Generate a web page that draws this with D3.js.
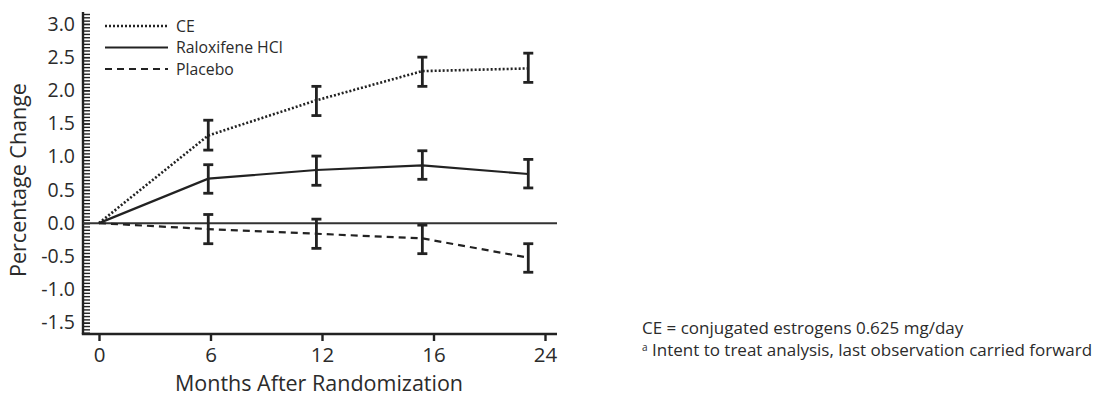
<!DOCTYPE html>
<html>
<head>
<meta charset="utf-8">
<script src="https://cdn.jsdelivr.net/npm/d3@7"></script>
<style>
  body { margin: 0; background: #fff; }
  text { font-family: "Open Sans", "Noto Sans", sans-serif; fill: #2b2b2b; }
</style>
</head>
<body>
<div id="container"></div>
<script>
/* CONSTANTS AND GLOBALS */
const width = 1101;
const height = 404;

// x tick labels (visits are drawn at equal steps)
const monthLabels = ["0", "6", "12", "16", "24"];
// where each measurement sits along the visit axis
const visitPos = [0, 0.98, 1.95, 2.9, 3.85];

const ceMean = [0, 1.32, 1.85, 2.29, 2.33];
const ceLow = [null, 1.10, 1.62, 2.06, 2.12];
const ceHigh = [null, 1.55, 2.06, 2.50, 2.56];

const raloxMean = [0, 0.67, 0.80, 0.87, 0.74];
const raloxLow = [null, 0.45, 0.57, 0.66, 0.53];
const raloxHigh = [null, 0.88, 1.01, 1.09, 0.96];

const placeboMean = [0, -0.09, -0.16, -0.23, -0.52];
const placeboLow = [null, -0.31, -0.38, -0.46, -0.74];
const placeboHigh = [null, 0.13, 0.06, -0.03, -0.31];

const yTicks = [3.0, 2.5, 2.0, 1.5, 1.0, 0.5, 0.0, -0.5, -1.0, -1.5];

const seriesNames = ["CE", "Raloxifene HCl", "Placebo"];

const series = [
  { name: seriesNames[0], mean: ceMean, low: ceLow, high: ceHigh, dash: "2,2", sw: 2.6 },
  { name: seriesNames[1], mean: raloxMean, low: raloxLow, high: raloxHigh, dash: null, sw: 2.2 },
  { name: seriesNames[2], mean: placeboMean, low: placeboLow, high: placeboHigh, dash: "7,5", sw: 2.2 }
];

const margin = { left: 83, right: 544, top: 12, bottom: 70 };

// + SCALES
const xScale = d3.scaleLinear()
  .domain([0, monthLabels.length - 1])
  .range([99, 545]);

const yScale = d3.scaleLinear()
  .domain([-1.67, 3.18])
  .range([height - margin.bottom, margin.top]);

// CREATE SVG ELEMENT
const svg = d3.select("#container")
  .append("svg")
  .attr("width", width)
  .attr("height", height);

// minor ticks comb
const minorAxis = d3.axisLeft(yScale)
  .tickValues(d3.range(-33, 64).map(i => i * 0.05))
  .tickSize(-7)
  .tickFormat("");

svg.append("g")
  .attr("transform", `translate(${margin.left}, 0)`)
  .call(minorAxis)
  .call(g => g.select(".domain").remove())
  .call(g => g.selectAll("line").attr("stroke", "#222").attr("stroke-width", 1.4));

const yAxis = d3.axisLeft(yScale)
  .tickValues(yTicks)
  .tickSize(-7)
  .tickPadding(8)
  .tickFormat(d => d.toFixed(1));

svg.append("g")
  .attr("transform", `translate(${margin.left}, 0)`)
  .call(yAxis)
  .call(g => g.select(".domain").remove())
  .call(g => g.selectAll("line").attr("stroke", "#222").attr("stroke-width", 1.4))
  .call(g => g.selectAll("text").attr("font-size", 19.5).attr("fill", "#2b2b2b")
    .attr("font-family", '"Open Sans", sans-serif'));

// axis lines
const xEnd = 557;
svg.append("line")
  .attr("x1", margin.left).attr("x2", margin.left)
  .attr("y1", yScale(3.18)).attr("y2", yScale(-1.67))
  .attr("stroke", "#222").attr("stroke-width", 2.4);

const xAxis = d3.axisBottom(xScale)
  .tickValues(d3.range(monthLabels.length))
  .tickSize(7)
  .tickPadding(6)
  .tickFormat(i => monthLabels[i]);

svg.append("g")
  .attr("transform", `translate(0, ${yScale(-1.67)})`)
  .call(xAxis)
  .call(g => g.select(".domain").remove())
  .call(g => g.selectAll("line").attr("stroke", "#222").attr("stroke-width", 2.4))
  .call(g => g.selectAll("text").attr("font-size", 20.5).attr("fill", "#2b2b2b")
    .attr("font-family", '"Open Sans", sans-serif'));

svg.append("line")
  .attr("x1", margin.left - 1.2).attr("x2", xEnd)
  .attr("y1", yScale(-1.67)).attr("y2", yScale(-1.67))
  .attr("stroke", "#222").attr("stroke-width", 2.4);

// zero reference line
svg.append("line")
  .attr("x1", margin.left).attr("x2", xEnd)
  .attr("y1", yScale(0)).attr("y2", yScale(0))
  .attr("stroke", "#333").attr("stroke-width", 2);

// axis titles
svg.append("text")
  .attr("x", 319).attr("y", 391)
  .attr("text-anchor", "middle")
  .attr("font-size", 21.5)
  .text("Months After Randomization");

svg.append("text")
  .attr("transform", `translate(${26}, ${180}) rotate(-90)`)
  .attr("text-anchor", "middle")
  .attr("font-size", 21.5)
  .text("Percentage Change");

// LINE GENERATOR FUNCTION
const lineGen = d3.line()
  .x((d, i) => xScale(visitPos[i]))
  .y(d => yScale(d));

// DRAW LINES + ERROR BARS
series.forEach((s, k) => {
  svg.append("path")
    .datum(s.mean)
    .attr("fill", "none")
    .attr("stroke", "#222")
    .attr("stroke-width", s.sw)
    .attr("stroke-dasharray", s.dash)
    .attr("d", lineGen);

  const bars = s.mean.map((m, i) => ({ x: visitPos[i], lo: s.low[i], hi: s.high[i] }))
    .filter(d => d.lo !== null);

  const g = svg.append("g").attr("stroke", "#222").attr("stroke-width", 2.8);
  g.selectAll(".stem")
    .data(bars)
    .join("line")
    .attr("x1", d => xScale(d.x)).attr("x2", d => xScale(d.x))
    .attr("y1", d => yScale(d.lo)).attr("y2", d => yScale(d.hi));
  g.selectAll(".capT")
    .data(bars)
    .join("line")
    .attr("x1", d => xScale(d.x) - 5).attr("x2", d => xScale(d.x) + 5)
    .attr("y1", d => yScale(d.hi)).attr("y2", d => yScale(d.hi));
  g.selectAll(".capB")
    .data(bars)
    .join("line")
    .attr("x1", d => xScale(d.x) - 5).attr("x2", d => xScale(d.x) + 5)
    .attr("y1", d => yScale(d.lo)).attr("y2", d => yScale(d.lo));
});

// LEGEND
const legend = svg.append("g");
series.forEach((s, k) => {
  const ly = 26 + k * 21.5;
  legend.append("line")
    .attr("x1", 105).attr("x2", 168)
    .attr("y1", ly).attr("y2", ly)
    .attr("stroke", "#222")
    .attr("stroke-width", s.sw)
    .attr("stroke-dasharray", s.dash);
  legend.append("text")
    .attr("x", 176).attr("y", ly)
    .attr("dy", "0.35em")
    .attr("font-size", 15.8)
    .text(s.name);
});

// FOOTNOTES
svg.append("text")
  .attr("x", 642).attr("y", 334)
  .attr("font-size", 17)
  .text("CE = conjugated estrogens 0.625 mg/day");

const fn = svg.append("text")
  .attr("x", 642).attr("y", 356)
  .attr("font-size", 17);
fn.append("tspan").attr("font-size", 10).attr("dy", -5).text("a");
fn.append("tspan").attr("dy", 5).text(" Intent to treat analysis, last observation carried forward");
</script>
</body>
</html>
